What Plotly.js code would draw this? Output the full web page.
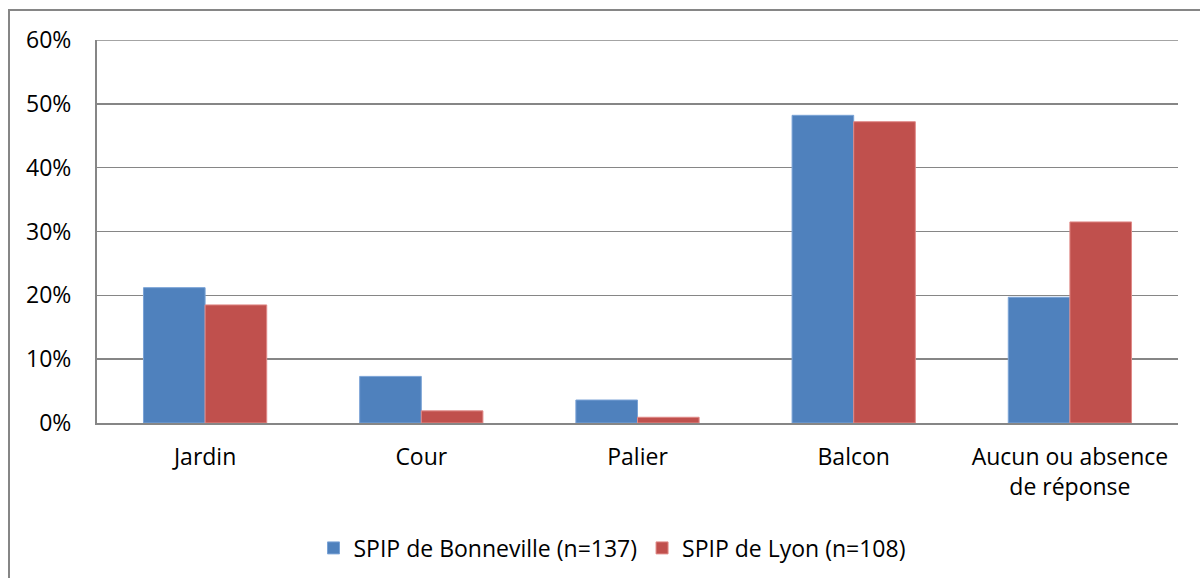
<!DOCTYPE html>
<html>
<head>
<meta charset="utf-8">
<script src="https://cdn.plot.ly/plotly-3.0.1.min.js"></script>
<style>
  html, body { margin: 0; padding: 0; background: #fff; overflow: hidden; }
  #frame { position: absolute; left: 8px; top: 9px; width: 1300px; height: 700px; border: 2px solid #868686; box-sizing: border-box; }
  #chart { position: absolute; left: 0; top: 0; width: 1200px; height: 578px; }
</style>
</head>
<body>
<div id="frame"></div>
<div id="chart"></div>
<script>
const categories = ["Jardin", "Cour", "Palier", "Balcon", "Aucun ou absence<br>de réponse"];
const seriesNames = ["SPIP de Bonneville (n=137)", "SPIP de Lyon (n=108)"];
const bonneville = [0.212, 0.073, 0.036, 0.482, 0.197];
const lyon = [0.185, 0.019, 0.009, 0.472, 0.315];
const yTicks = [0, 0.1, 0.2, 0.3, 0.4, 0.5, 0.6];
const yTickLabels = ["0%", "10%", "20%", "30%", "40%", "50%", "60%"];
const yMax = 0.6;

const font = { family: "Open Sans, Noto Sans, sans-serif", size: 23, color: "#000" };

const traces = [
  { type: "bar", name: seriesNames[0], x: categories, y: bonneville,
    marker: { color: "#4F81BD", line: { color: "#7aa3d6", width: 1 } } },
  { type: "bar", name: seriesNames[1], x: categories, y: lyon,
    marker: { color: "#C0504D", line: { color: "#e08a88", width: 1 } } }
];

const layout = {
  width: 1200, height: 578,
  margin: { l: 97, r: 22, t: 40, b: 155, autoexpand: false },
  paper_bgcolor: "rgba(0,0,0,0)",
  plot_bgcolor: "#fff",
  font: font,
  barmode: "group",
  bargap: 0.43,
  bargroupgap: 0,
  showlegend: true,
  legend: {
    orientation: "h", xref: "container", yref: "container",
    x: 0.51, xanchor: "center", y: 0.052, yanchor: "middle",
    font: font, itemwidth: 30, traceorder: "normal", tracegroupgap: 0
  },
  shapes: [
    { type: "line", xref: "paper", x0: 0, x1: 1, yref: "y", y0: yMax, y1: yMax,
      line: { color: "#868686", width: 1.5 }, layer: "below" }
  ],
  xaxis: {
    type: "category", showgrid: false, showline: true, linecolor: "#868686", linewidth: 2,
    ticks: "", ticklabelstandoff: 12, tickfont: font, zeroline: false, automargin: false
  },
  yaxis: {
    range: [0, yMax], tickvals: yTicks, ticktext: yTickLabels,
    showgrid: true, gridcolor: "#868686", gridwidth: 1.5,
    showline: true, linecolor: "#868686", linewidth: 2,
    zeroline: false, ticks: "", ticklabelstandoff: 19, tickfont: font, automargin: false
  }
};

Plotly.newPlot("chart", traces, layout, { staticPlot: true, displayModeBar: false });
</script>
</body>
</html>
